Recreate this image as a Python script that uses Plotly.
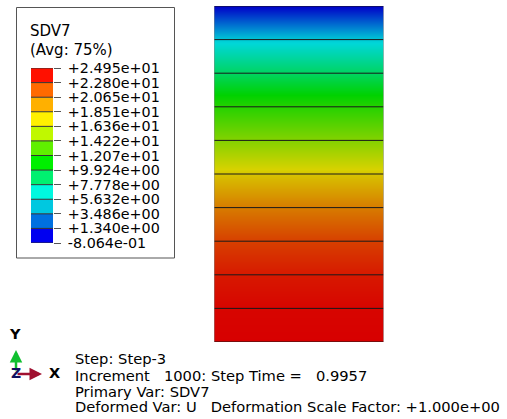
import plotly.graph_objects as go

W, H = 507, 419

# Legend
legend_title = ["SDV7", "(Avg: 75%)"]
legend_levels = [24.95, 22.80, 20.65, 18.51, 16.36, 14.22, 12.07, 9.924, 7.778, 5.632, 3.486, 1.340, -0.8064]
legend_labels = ["+2.495e+01", "+2.280e+01", "+2.065e+01", "+1.851e+01", "+1.636e+01", "+1.422e+01",
                 "+1.207e+01", "+9.924e+00", "+7.778e+00", "+5.632e+00", "+3.486e+00", "+1.340e+00", "-8.064e-01"]
legend_colors = ["#ff1000", "#ff6a00", "#ffb000", "#fff000", "#c0f800", "#60f000",
                 "#00f000", "#00f070", "#00f8e0", "#00c8e0", "#0070e0", "#0000f0"]

# Contour column: value at each mesh level, top to bottom
node_height = [10, 9, 8, 7, 6, 5, 4, 3, 2, 1, 0]
node_value = [-0.8064, 5.3, 8.6, 12.4, 15.6, 19.0, 21.2, 23.0, 24.2, 24.8, 24.95]
column_scale = [[0.0, "rgb(0,0,200)"], [0.25, "rgb(0,215,215)"], [0.46, "rgb(0,210,0)"],
                [0.75, "rgb(215,210,0)"], [1.0, "rgb(215,0,0)"]]

info_lines = ["Step: Step-3", "Increment   1000: Step Time =   0.9957",
              "Primary Var: SDV7", "Deformed Var: U   Deformation Scale Factor: +1.000e+00"]

FONT = "DejaVu Sans"
fig = go.Figure()

# column
fig.add_trace(go.Heatmap(x=[0, 1], y=node_height, z=[[v, v] for v in node_value],
                         colorscale=column_scale, zmin=-0.8064, zmax=24.95, zsmooth="best",
                         showscale=False, hoverinfo="skip"))
lx, ly = [], []
for h in node_height:
    lx += [0, 1, None]
    ly += [h, h, None]
fig.add_trace(go.Scatter(x=lx, y=ly, mode="lines", line=dict(color="#1a1a1a", width=1), hoverinfo="skip"))
fig.add_trace(go.Scatter(x=[0, 0, None, 1, 1], y=[0, 10, None, 0, 10], mode="lines",
                         line=dict(color="#888888", width=1), hoverinfo="skip"))

# legend bar
bases = legend_levels[1:]
heights = [a - b for a, b in zip(legend_levels[:-1], legend_levels[1:])]
fig.add_trace(go.Bar(x=[0.5] * 12, y=heights, base=bases, width=1, marker=dict(color=legend_colors, line_width=0),
                     xaxis="x2", yaxis="y2", hoverinfo="skip"))
bx, by = [], []
for v in legend_levels:
    bx += [0, 1, None]
    by += [v, v, None]
fig.add_trace(go.Scatter(x=bx, y=by, mode="lines", line=dict(color="#333333", width=1),
                         xaxis="x2", yaxis="y2", hoverinfo="skip", cliponaxis=False))

fig.update_layout(
    width=W, height=H, margin=dict(l=0, r=0, t=0, b=0), paper_bgcolor="white", plot_bgcolor="white",
    showlegend=False, barmode="overlay", font=dict(family=FONT, color="#111111"),
    xaxis=dict(domain=[214 / W, 383.5 / W], range=[0, 1], visible=False, automargin=False),
    yaxis=dict(domain=[1 - 342 / H, 1 - 6 / H], range=[0, 10], visible=False, automargin=False),
    xaxis2=dict(domain=[31 / W, 53 / W], range=[0, 1], visible=False, anchor="y2", automargin=False),
    yaxis2=dict(domain=[1 - 243 / H, 1 - 68 / H], range=[-0.8064, 24.95], anchor="x2", side="right",
                tickmode="array", tickvals=legend_levels, ticktext=legend_labels, ticks="outside",
                ticklen=7, tickcolor="#555555", showgrid=False, zeroline=False, showline=False, automargin=False,
                tickfont=dict(size=14.3, family=FONT, color="#000000"), ticklabelstandoff=4),
    shapes=[dict(type="rect", xref="paper", yref="paper", x0=16.5 / W, x1=174.5 / W,
                 y0=1 - 258 / H, y1=1 - 7.5 / H, line=dict(color="#555555", width=1))],
)

def text(x, y, s, size=14, color="#000000", bold=False):
    fig.add_annotation(xref="paper", yref="paper", x=x / W, y=1 - y / H, text=f"<b>{s}</b>" if bold else s,
                       showarrow=False, xanchor="left", yanchor="middle", align="left",
                       font=dict(size=size, color=color, family=FONT))

text(28, 31, legend_title[0], size=15)
text(28, 50, legend_title[1], size=15)
for s, y in zip(info_lines, [358, 375, 391, 406]):
    text(73, y, s, size=14.7)

# triad
text(7, 334, "Y", size=14.5, bold=True)
text(47, 373, "X", size=14.5, bold=True)
def arrow(x0, y0, x1, y1, color):
    fig.add_annotation(xref="paper", yref="paper", axref="pixel", ayref="pixel",
                       x=x1 / W, y=1 - y1 / H, ax=x0 - x1, ay=y0 - y1, text="", showarrow=True,
                       arrowhead=2, arrowsize=1.0, arrowwidth=2.5, arrowcolor=color)
arrow(16, 374, 42, 374, "#a01030")
arrow(16, 372, 16, 350, "#10c030")
text(9, 373, "Z", color="#101060", bold=True)

fig.write_html("out.html", post_script="document.body.style.margin='0';",
               config=dict(displayModeBar=False))
